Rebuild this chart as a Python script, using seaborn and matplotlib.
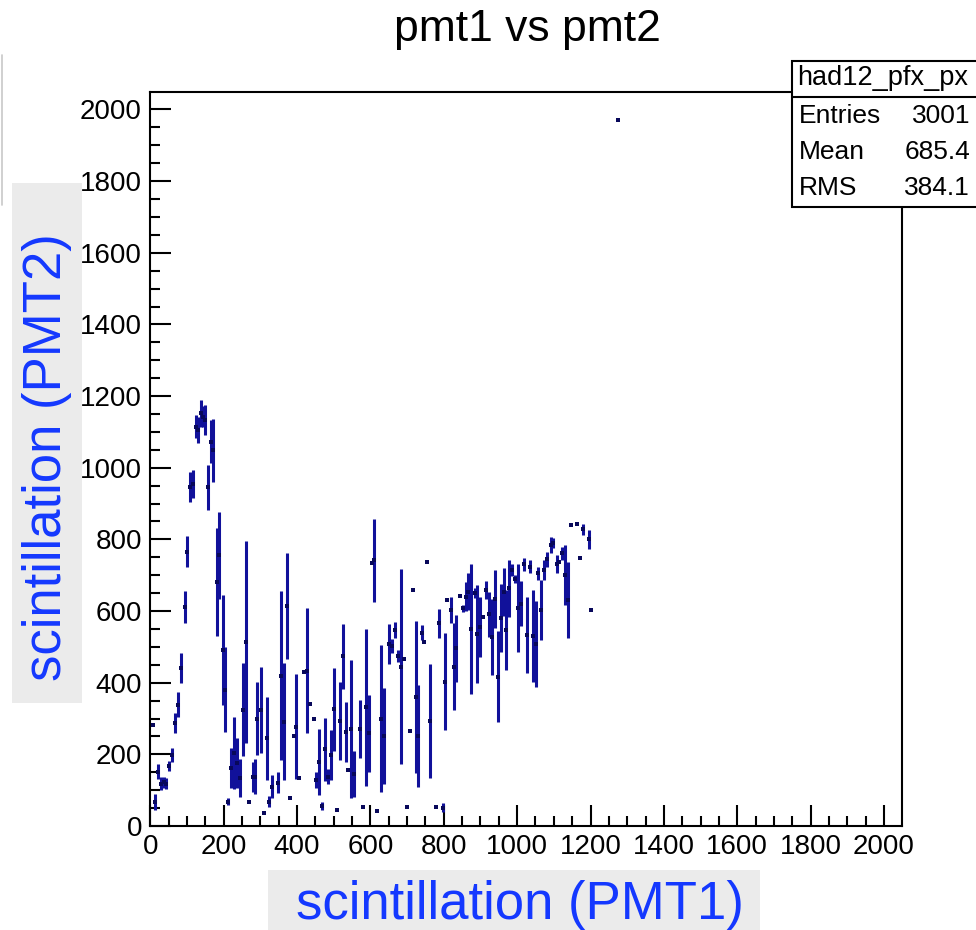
import numpy as np
import pandas as pd
import matplotlib
matplotlib.use("Agg")
import matplotlib.pyplot as plt
from matplotlib.ticker import MultipleLocator
from matplotlib.patches import Rectangle
from matplotlib.lines import Line2D
import seaborn as sns

# ---- data (profile bins: PMT1 bin centre, mean PMT2, error) ----
pmt1 = [7, 13, 20, 28, 36, 44, 52, 60, 68, 76, 85, 94, 101, 109, 117, 125, 131, 138, 145, 149,
        156, 165, 171, 181, 187, 197, 204, 213, 220, 228, 236, 245, 252, 260, 269, 279, 285, 292,
        301, 309, 317, 324, 333, 349, 357, 364, 372, 381, 391, 396, 405, 420, 428, 436, 445, 452,
        460, 468, 477, 484, 492, 500, 508, 516, 524, 533, 539, 547, 555, 572, 581, 589, 597, 604,
        610, 619, 628, 637, 652, 658, 668, 676, 683, 692, 699, 708, 716, 724, 731, 740, 747, 755,
        763, 779, 787, 797, 804, 810, 820, 828, 834, 843, 852, 860, 867, 875, 884, 891, 899, 906,
        915, 923, 931, 940, 948, 955, 963, 970, 979, 986, 995, 1002, 1010, 1019, 1026, 1035, 1042,
        1051, 1058, 1066, 1074, 1082, 1091, 1099, 1108, 1114, 1123, 1131, 1138, 1147, 1163, 1172,
        1179, 1195, 1202, 1275]
pmt2_mean = [282, 68, 152, 118, 122, 118, 167, 198, 287, 338, 441, 612, 766, 945, 955, 1115, 1105,
             1152, 1143, 1133, 945, 1072, 1049, 682, 756, 491, 381, 68, 161, 203, 175, 134, 324, 514,
             68, 137, 137, 300, 324, 35, 245, 68, 110, 121, 420, 291, 614, 79, 252, 277, 133, 429,
             434, 340, 299, 128, 179, 56, 214, 138, 198, 326, 45, 294, 474, 262, 156, 270, 145, 270,
             53, 331, 259, 735, 742, 43, 300, 251, 508, 503, 547, 475, 445, 466, 53, 266, 659, 361,
             252, 540, 514, 738, 293, 53, 566, 51, 403, 631, 603, 445, 496, 643, 608, 640, 654, 549,
             650, 535, 556, 584, 659, 591, 528, 634, 417, 581, 652, 547, 663, 714, 689, 608, 621,
             730, 533, 724, 530, 508, 705, 603, 714, 744, 784, 789, 731, 738, 761, 700, 631, 840,
             843, 747, 828, 800, 603, 1972]
pmt2_err = [0, 22, 21, 18, 15, 15, 14, 19, 28, 35, 42, 44, 44, 42, 40, 33, 37, 37, 28, 42,
            63, 60, 88, 151, 121, 153, 119, 9, 56, 100, 70, 53, 130, 281, 0, 42, 49, 102,
            119, 0, 116, 16, 33, 30, 237, 163, 147, 0, 0, 147, 0, 0, 174, 0, 0, 23,
            93, 10, 88, 20, 70, 116, 0, 109, 91, 84, 0, 193, 65, 81, 0, 219, 107, 0,
            116, 0, 205, 135, 57, 20, 23, 16, 272, 0, 0, 0, 0, 212, 142, 21, 0, 0,
            158, 0, 40, 12, 135, 0, 37, 121, 93, 0, 10, 40, 51, 181, 14, 137, 84, 0,
            25, 63, 107, 81, 128, 95, 67, 112, 79, 16, 12, 123, 63, 19, 107, 19, 128,
            119, 19, 84, 28, 21, 23, 14, 26, 0, 19, 84, 105, 0, 0, 0, 16, 26, 0, 0]

title_text = "pmt1 vs pmt2"
xlabel_text = "scintillation (PMT1)"
ylabel_text = "scintillation (PMT2)"
stats_name = "had12_pfx_px"
stats_labels = ["Entries", "Mean", "RMS"]
stats_values = ["3001", "685.4", "384.1"]

df = pd.DataFrame({"pmt1": pmt1, "pmt2": pmt2_mean, "err": pmt2_err})

sns.set_style("ticks")
plt.rcParams["font.family"] = ["Liberation Sans", "DejaVu Sans"]
plt.rcParams["text.color"] = "black"

W, H = 976, 930
fig = plt.figure(figsize=(W / 100, H / 100), dpi=100)
fig.patch.set_facecolor("white")

def fx(px):
    return px / W

def fy(py):
    return 1 - py / H

left, right, top, bottom = 150.3, 901.6, 92.3, 826.0
ax = fig.add_axes([fx(left), fy(bottom), fx(right) - fx(left), fy(top) - fy(bottom)])
ax.set_facecolor("white")

navy = "#11119a"
ax.errorbar(df["pmt1"], df["pmt2"], yerr=df["err"], fmt="none", ecolor=navy,
            elinewidth=2.2, capsize=0, zorder=2)
sns.scatterplot(data=df, x="pmt1", y="pmt2", marker="s", s=6, color="#08085a",
                edgecolor=None, linewidth=0, ax=ax, zorder=3, legend=False)

ax.set_xlim(0, 2048)
ax.set_ylim(0, 2048)
ax.xaxis.set_major_locator(MultipleLocator(200))
ax.xaxis.set_minor_locator(MultipleLocator(50))
ax.yaxis.set_major_locator(MultipleLocator(200))
ax.yaxis.set_minor_locator(MultipleLocator(50))
ax.tick_params(which="both", direction="in", width=1.5, color="black",
               top=False, right=False, labelsize=20, labelcolor="black")
ax.tick_params(which="major", length=15)
ax.tick_params(which="minor", length=7.5)
ax.tick_params(axis="y", which="major", pad=6)
ax.tick_params(axis="x", which="major", pad=6)
for s in ax.spines.values():
    s.set_linewidth(1.5)
    s.set_color("black")
ax.set_xlabel("")
ax.set_ylabel("")

# title
fig.text(fx(527), fy(30), title_text, ha="center", va="center", fontsize=32, color="black")

# axis titles with grey backgrounds
label_blue = "#1438ff"
fig.patches.append(Rectangle((fx(268), fy(935)), fx(760) - fx(268), fy(870) - fy(935),
                             transform=fig.transFigure, facecolor="#ebebeb", edgecolor="none", zorder=0))
fig.text(fx(520), fy(905), xlabel_text, ha="center", va="center", fontsize=38, color=label_blue)
fig.patches.append(Rectangle((fx(12), fy(703)), fx(82) - fx(12), fy(183) - fy(703),
                             transform=fig.transFigure, facecolor="#ebebeb", edgecolor="none", zorder=0))
fig.text(fx(47), fy(457), ylabel_text, ha="center", va="center", fontsize=38,
         color=label_blue, rotation=90)

# faint line at top left
fig.lines.append(Line2D([fx(1.5), fx(1.5)], [fy(55), fy(205)], transform=fig.transFigure,
                        color="#c8c8c8", linewidth=1.2))

# stats box
bx0, bx1, by0, by1, bsep = 792, 995, 60.7, 206.7, 96.7
fig.patches.append(Rectangle((fx(bx0), fy(by1)), fx(bx1) - fx(bx0), fy(by0) - fy(by1),
                             transform=fig.transFigure, facecolor="white", edgecolor="black",
                             linewidth=1.5, zorder=5))
fig.lines.append(Line2D([fx(bx0), fx(bx1)], [fy(bsep), fy(bsep)], transform=fig.transFigure,
                        color="black", linewidth=1.5, zorder=6))
fig.text(fx(797), fy(78), stats_name, ha="left", va="center", fontsize=19.5, zorder=7, color="black")
for i, (lab, val) in enumerate(zip(stats_labels, stats_values)):
    yy = 116 + 36 * i
    fig.text(fx(799), fy(yy), lab, ha="left", va="center", fontsize=19, zorder=7, color="black")
    fig.text(fx(970), fy(yy), val, ha="right", va="center", fontsize=19, zorder=7, color="black")

fig.savefig("out.png", dpi=100, facecolor="white")
